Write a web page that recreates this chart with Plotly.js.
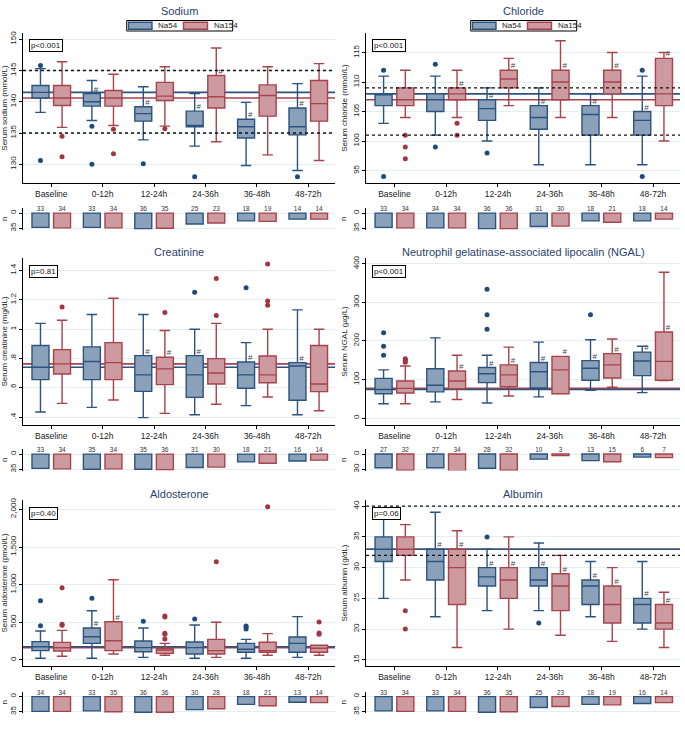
<!DOCTYPE html>
<html>
<head>
<meta charset="utf-8">
<script src="https://cdn.plot.ly/plotly-3.0.1.min.js"></script>
<style>
body{margin:0;background:#fff;}
#plot{width:685px;height:733px;}
</style>
</head>
<body>
<div id="plot"></div>
<script>
var times = ['Baseline', '0-12h', '12-24h', '24-36h', '36-48h', '48-72h'];
var groups = ['Na54', 'Na154'];

// box stats per time point: [lower whisker, q1, median, q3, upper whisker]
var sodium54 = [
	[138.3, 140.6, 141.5, 142.6, 145.3],
	[137.0, 139.3, 140.0, 141.3, 143.4],
	[133.9, 136.9, 138.1, 139.2, 142.4],
	[132.9, 136.0, 136.2, 138.5, 141.3],
	[129.8, 134.2, 136.0, 137.2, 139.9],
	[129.0, 134.7, 136.0, 139.0, 142.9]
];
var sodium154 = [
	[135.9, 139.4, 140.6, 142.6, 146.4],
	[136.2, 139.3, 140.6, 141.8, 144.4],
	[136.1, 140.2, 140.9, 143.1, 145.6],
	[133.6, 139.0, 140.8, 144.2, 148.6],
	[131.5, 137.7, 141.0, 142.7, 145.6],
	[130.6, 136.9, 139.7, 143.4, 146.1]
];
var sodiumOut54 = [[0, 145.8], [0, 130.6], [1, 136.1], [1, 130.0], [2, 130.1], [3, 128.0], [5, 128.0]];
var sodiumOut154 = [[0, 134.5], [0, 131.2], [1, 135.6], [1, 131.7], [2, 135.7]];
var sodiumHash54 = [1, 2, 3, 4, 5];
var sodiumHash154 = [3];
var sodiumN54 = [33, 33, 36, 25, 18, 14];
var sodiumN154 = [34, 34, 35, 23, 19, 14];

var chloride54 = [
	[103, 106, 108, 108, 111],
	[101, 105, 107, 108, 111],
	[100, 103.5, 105.5, 107, 109],
	[96, 102, 104, 106, 109],
	[96, 101, 104.5, 106, 108],
	[96, 101, 103.5, 105, 111]
];
var chloride154 = [
	[104, 106, 107, 109, 112],
	[104, 107, 108, 109, 112],
	[106, 109, 110.5, 112, 114],
	[104, 107, 110, 112, 117],
	[104, 108, 110, 112, 115],
	[100, 106, 108, 114, 115]
];
var chlorideOut54 = [[0, 112], [0, 94], [1, 113], [1, 99], [2, 98], [5, 112], [5, 94]];
var chlorideOut154 = [[0, 101], [0, 99], [0, 97], [1, 103], [1, 101]];
var chlorideHash54 = [2, 3, 4, 5];
var chlorideHash154 = [1, 2, 3, 4, 5];
var chlorideN54 = [33, 34, 36, 31, 18, 18];
var chlorideN154 = [34, 34, 36, 30, 21, 14];

var creatinine54 = [
	[0.436, 0.657, 0.741, 0.889, 1.04],
	[0.468, 0.657, 0.780, 0.880, 1.10],
	[0.398, 0.577, 0.689, 0.820, 1.10],
	[0.418, 0.536, 0.689, 0.820, 1.00],
	[0.480, 0.598, 0.689, 0.777, 0.909],
	[0.418, 0.516, 0.750, 0.773, 1.132]
];
var creatinine154 = [
	[0.495, 0.695, 0.764, 0.861, 1.061],
	[0.518, 0.657, 0.773, 0.909, 1.211],
	[0.427, 0.623, 0.730, 0.809, 0.991],
	[0.489, 0.627, 0.702, 0.800, 1.040],
	[0.539, 0.636, 0.689, 0.818, 1.000],
	[0.445, 0.575, 0.627, 0.889, 1.000]
];
var creatinineOut54 = [[3, 1.252], [4, 1.282]];
var creatinineOut154 = [[0, 1.152], [2, 1.114], [3, 1.345], [3, 1.093], [4, 1.445], [4, 1.193], [4, 1.164]];
var creatinineHash54 = [2, 3, 4, 5];
var creatinineHash154 = [2];
var creatinineN54 = [33, 35, 35, 31, 18, 16];
var creatinineN154 = [34, 34, 36, 30, 21, 14];

var ngal54 = [
	[37, 63, 74, 103, 125],
	[42, 68, 85, 128, 208],
	[39, 92, 115, 131, 163],
	[55, 78, 120, 144, 197],
	[72, 98, 129, 149, 203],
	[66, 110, 148, 171, 186]
];
var ngal154 = [
	[37, 65, 77, 96, 135],
	[48, 76, 96, 122, 163],
	[57, 81, 112, 138, 184],
	[63, 63, 125, 160, 160],
	[80, 104, 138, 167, 205],
	[97, 98, 147, 223, 378]
];
var ngalOut54 = [[0, 221], [0, 186], [0, 163], [2, 334], [2, 268], [2, 230], [4, 268]];
var ngalOut154 = [[0, 154], [0, 150], [0, 145]];
var ngalHash54 = [2, 3, 4, 5];
var ngalHash154 = [1, 2, 3, 4, 5];
var ngalN54 = [27, 27, 28, 10, 13, 6];
var ngalN154 = [32, 34, 32, 3, 15, 7];

var aldo54 = [
	[22, 124, 175, 243, 385],
	[22, 221, 309, 424, 654],
	[35, 110, 164, 252, 424],
	[22, 80, 164, 239, 465],
	[22, 102, 142, 221, 274],
	[35, 102, 221, 305, 575]
];
var aldo154 = [
	[49, 119, 162, 234, 393],
	[80, 124, 256, 508, 1066],
	[62, 88, 133, 155, 221],
	[35, 80, 124, 274, 500],
	[62, 102, 124, 235, 350],
	[62, 102, 155, 195, 195]
];
var aldoOut54 = [[0, 786], [0, 455], [1, 818], [2, 513], [3, 544], [4, 451], [4, 438], [4, 411]];
var aldoOut154 = [[0, 958], [0, 473], [0, 460], [2, 584], [2, 571], [2, 354], [2, 341], [2, 279],
	[3, 1305], [4, 2035], [5, 504], [5, 358], [5, 341]];
var aldoHash54 = [1];
var aldoHash154 = [1];
var aldoN54 = [34, 33, 36, 30, 18, 13];
var aldoN154 = [34, 35, 36, 28, 21, 14];

var albumin54 = [
	[25, 31, 33, 35, 38.5],
	[22, 28, 31, 33, 39],
	[23, 27, 28.5, 30, 33],
	[23, 27, 28, 30, 34],
	[22, 24, 27, 28, 31],
	[20, 21, 24, 25, 31]
];
var albumin154 = [
	[28, 32, 33, 35, 37],
	[17, 24, 30, 33, 36],
	[20, 25, 28, 30, 35],
	[19, 23, 27, 29, 32],
	[18, 21, 24, 27, 30],
	[17, 20, 21, 24, 26]
];
var albuminOut54 = [[2, 35], [3, 21]];
var albuminOut154 = [[0, 23], [0, 20]];
var albuminHash54 = [1, 2, 3, 4, 5];
var albuminHash154 = [1, 2, 3, 4, 5];
var albuminN54 = [33, 33, 36, 25, 18, 16];
var albuminN154 = [34, 34, 35, 23, 19, 14];

// normal ranges (dashed) and p-values
var sodiumNormal = [135, 145];
var chlorideNormal = [101, 109];
var albuminNormal = [32, 40];
var pValues = ['p<0.001', 'p<0.001', 'p=0.81', 'p<0.001', 'p=0.40', 'p=0.06'];

var panels = [
	{title: 'Sodium', ytitle: 'Serum sodium (mmol/L)', s: [sodium54, sodium154], out: [sodiumOut54, sodiumOut154],
	 hash: [sodiumHash54, sodiumHash154], n: [sodiumN54, sodiumN154], normal: sodiumNormal,
	 range: [127, 151], tickvals: [130, 135, 140, 145, 150], ticktext: ['130', '135', '140', '145', '150'], nmax: 35},
	{title: 'Chloride', ytitle: 'Serum chloride (mmol/L)', s: [chloride54, chloride154], out: [chlorideOut54, chlorideOut154],
	 hash: [chlorideHash54, chlorideHash154], n: [chlorideN54, chlorideN154], normal: chlorideNormal,
	 range: [92.9, 118.3], tickvals: [95, 100, 105, 110, 115], ticktext: ['95', '100', '105', '110', '115'], nmax: 35},
	{title: 'Creatinine', ytitle: 'Serum creatinine (mg/dL)', s: [creatinine54, creatinine154], out: [creatinineOut54, creatinineOut154],
	 hash: [creatinineHash54, creatinineHash154], n: [creatinineN54, creatinineN154], normal: [],
	 range: [0.348, 1.485], tickvals: [0.4, 0.6, 0.8, 1, 1.2, 1.4], ticktext: ['.4', '.6', '.8', '1', '1.2', '1.4'], nmax: 35},
	{title: 'Neutrophil gelatinase-associated lipocalin (NGAL)', ytitle: 'Serum NGAL (µg/L)', s: [ngal54, ngal154], out: [ngalOut54, ngalOut154],
	 hash: [ngalHash54, ngalHash154], n: [ngalN54, ngalN154], normal: [],
	 range: [-18, 415], tickvals: [0, 100, 200, 300, 400], ticktext: ['0', '100', '200', '300', '400'], nmax: 30},
	{title: 'Aldosterone', ytitle: 'Serum aldosterone (pmol/L)', s: [aldo54, aldo154], out: [aldoOut54, aldoOut154],
	 hash: [aldoHash54, aldoHash154], n: [aldoN54, aldoN154], normal: [],
	 range: [-80, 2124], tickvals: [0, 500, 1000, 1500, 2000], ticktext: ['0', '500', '1,000', '1,500', '2,000'], nmax: 35},
	{title: 'Albumin', ytitle: 'Serum albumin (g/dL)', s: [albumin54, albumin154], out: [albuminOut54, albuminOut154],
	 hash: [albuminHash54, albuminHash154], n: [albuminN54, albuminN154], normal: albuminNormal,
	 range: [14, 41], tickvals: [15, 20, 25, 30, 35, 40], ticktext: ['15', '20', '25', '30', '35', '40'], nmax: 35}
];

var lineCol = ['#2a5380', '#a8424d'];
var fillCol = ['#8ba1ba', '#cd9aa0'];
var dotCol = ['#1f4a7a', '#a33543'];
var gridCol = '#e4eef0';
var W = 685, H = 733;

// pixel geometry of the panels
var colX = [[23, 335], [366, 680]];
var rowMain = [[33, 183], [258, 425], [500, 666]];
var rowN = [[208, 229.5], [449, 470.5], [691.5, 713]];
var titleY = [11, 252, 494];
var xr = [-0.55, 5.52];
var off = 0.21;

function py(v){ return 1 - v / H; }
function px(v){ return v / W; }

var traces = [];
var layout = {
	width: W, height: H,
	margin: {l: 0, r: 0, t: 0, b: 0},
	paper_bgcolor: '#fff', plot_bgcolor: '#fff',
	font: {family: 'Liberation Sans, Arial, sans-serif', size: 8, color: '#222'},
	showlegend: false,
	annotations: [],
	shapes: []
};

panels.forEach(function(p, k){
	var col = k % 2, row = Math.floor(k / 2);
	var a = 2 * k + 1, b = 2 * k + 2;
	var xd = [px(colX[col][0]), px(colX[col][1])];

	layout['xaxis' + a] = {
		domain: xd, anchor: 'y' + a, range: xr,
		tickvals: [0, 1, 2, 3, 4, 5], ticktext: times,
		showline: true, linecolor: '#000', linewidth: 1,
		ticks: 'outside', ticklen: 3, tickcolor: '#000',
		showgrid: false, zeroline: false, tickfont: {size: 8.5}
	};
	layout['yaxis' + a] = {
		domain: [py(rowMain[row][1]), py(rowMain[row][0])], anchor: 'x' + a,
		range: p.range, tickvals: p.tickvals, ticktext: p.ticktext,
		tickangle: -90, showline: true, linecolor: '#000', linewidth: 1,
		ticks: 'outside', ticklen: 3, tickcolor: '#000',
		showgrid: true, gridcolor: gridCol, zeroline: false,
		title: {text: p.ytitle, font: {size: 8}, standoff: 2}
	};
	layout['xaxis' + b] = {
		domain: xd, anchor: 'y' + b, range: xr,
		showline: false, showticklabels: false, ticks: '', showgrid: false, zeroline: false
	};
	var nr = p.nmax == 30 ? [32.4, -10] : [37.8, -11.7];
	layout['yaxis' + b] = {
		domain: [py(rowN[row][1]), py(rowN[row][0])], anchor: 'x' + b,
		range: nr, tickvals: [0, p.nmax], ticktext: ['0', String(p.nmax)],
		tickangle: -90, showline: true, linecolor: '#000', linewidth: 1,
		ticks: 'outside', ticklen: 3, tickcolor: '#000',
		showgrid: true, gridcolor: gridCol, zeroline: false,
		title: {text: 'n', font: {size: 8}, standoff: 3}
	};

	// reference lines: baseline medians and normal range
	[1, 0].forEach(function(g){
		layout.shapes.push({type: 'line', xref: 'x' + a + ' domain', yref: 'y' + a,
			x0: 0, x1: 1, y0: p.s[g][0][2], y1: p.s[g][0][2],
			line: {color: lineCol[g], width: 1.6}, layer: 'below'});
	});
	p.normal.forEach(function(v){
		layout.shapes.push({type: 'line', xref: 'x' + a + ' domain', yref: 'y' + a,
			x0: 0, x1: 1, y0: v, y1: v,
			line: {color: '#111', width: 1.3, dash: 'dot'}, layer: 'above'});
	});

	[0, 1].forEach(function(g){
		var pos = times.map(function(t, i){ return i + (g ? off : -off); });
		var st = p.s[g];
		traces.push({
			type: 'box', name: groups[g], x: pos,
			lowerfence: st.map(function(r){ return r[0]; }),
			q1: st.map(function(r){ return r[1]; }),
			median: st.map(function(r){ return r[2]; }),
			q3: st.map(function(r){ return r[3]; }),
			upperfence: st.map(function(r){ return r[4]; }),
			width: 0.33, whiskerwidth: 0.62,
			fillcolor: fillCol[g], line: {color: lineCol[g], width: 1.4},
			boxpoints: false, hoverinfo: 'skip',
			xaxis: 'x' + a, yaxis: 'y' + a
		});
		// outliers
		traces.push({
			type: 'scatter', mode: 'markers',
			x: p.out[g].map(function(o){ return o[0] + (g ? off : -off); }),
			y: p.out[g].map(function(o){ return o[1]; }),
			marker: {color: dotCol[g], size: 5},
			xaxis: 'x' + a, yaxis: 'y' + a, hoverinfo: 'skip'
		});
		// # markers (significant vs baseline)
		traces.push({
			type: 'scatter', mode: 'text',
			x: p.hash[g].map(function(i){ return i + (g ? off : -off) + 0.08; }),
			y: p.hash[g].map(function(i){ return st[i][3]; }),
			text: p.hash[g].map(function(){ return '#'; }),
			textposition: 'top center', textfont: {size: 8, color: '#444'},
			cliponaxis: false,
			xaxis: 'x' + a, yaxis: 'y' + a, hoverinfo: 'skip'
		});
		// n bars
		traces.push({
			type: 'bar', x: pos, y: p.n[g], width: 0.33,
			marker: {color: fillCol[g], line: {color: lineCol[g], width: 1.4}},
			xaxis: 'x' + b, yaxis: 'y' + b, hoverinfo: 'skip'
		});
		traces.push({
			type: 'scatter', mode: 'text', x: pos, y: pos.map(function(){ return 0; }),
			text: p.n[g].map(String), textposition: 'top center',
			textfont: {size: 6.5, color: '#333'}, cliponaxis: false,
			xaxis: 'x' + b, yaxis: 'y' + b, hoverinfo: 'skip'
		});
	});

	layout.annotations.push({
		text: p.title, xref: 'paper', yref: 'paper',
		x: px((colX[col][0] + colX[col][1]) / 2), y: py(titleY[row]),
		xanchor: 'center', yanchor: 'middle', showarrow: false,
		font: {size: 11, color: '#2b3f6b'}
	});
	layout.annotations.push({
		text: pValues[k], xref: 'x' + a + ' domain', yref: 'y' + a + ' domain',
		x: 0.018, y: 0.96, xanchor: 'left', yanchor: 'top', showarrow: false,
		bordercolor: '#000', borderwidth: 1, borderpad: 1, bgcolor: '#fff',
		font: {size: 8, color: '#111'}
	});

	// boxed legend above the two top panels
	if (row == 0) {
		var cx = (colX[col][0] + colX[col][1]) / 2;
		layout.shapes.push({type: 'rect', xref: 'paper', yref: 'paper',
			x0: px(cx - 52.3), x1: px(cx + 53.7), y0: py(31), y1: py(20.5),
			line: {color: '#000', width: 1}, fillcolor: '#fff'});
		var sw = [[-50.5, -27], [4.5, 28.5]];
		var tx = [-23, 32.5];
		[0, 1].forEach(function(g){
			layout.shapes.push({type: 'rect', xref: 'paper', yref: 'paper',
				x0: px(cx + sw[g][0]), x1: px(cx + sw[g][1]), y0: py(29.2), y1: py(22.3),
				line: {color: lineCol[g], width: 1.4}, fillcolor: fillCol[g]});
			layout.annotations.push({text: groups[g], xref: 'paper', yref: 'paper',
				x: px(cx + tx[g]), y: py(25.8), xanchor: 'left', yanchor: 'middle',
				showarrow: false, font: {size: 8, color: '#222'}});
		});
	}
});

Plotly.newPlot('plot', traces, layout, {displayModeBar: false, staticPlot: true});
</script>
</body>
</html>
